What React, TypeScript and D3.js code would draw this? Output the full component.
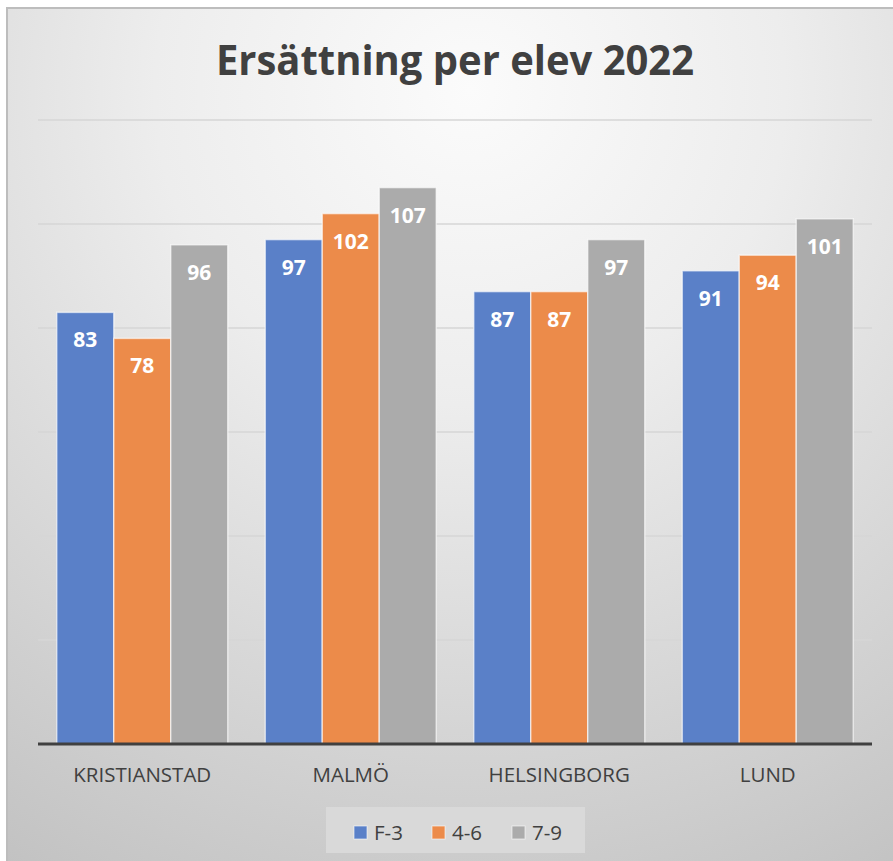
import React from "react";
import * as d3 from "d3";

const categories = ["KRISTIANSTAD", "MALMÖ", "HELSINGBORG", "LUND"];
const seriesNames = ["F-3", "4-6", "7-9"];
const seriesF3 = [83, 97, 87, 91];
const series46 = [78, 102, 87, 94];
const series79 = [96, 107, 97, 101];
const yTicks = [0, 20, 40, 60, 80, 100, 120];
const title = "Ersättning per elev 2022";

const colors = ["#5a80c8", "#ec8b4a", "#ababab"];
const W = 893;
const H = 861;
const FONT = "'Open Sans', 'DejaVu Sans', sans-serif";

export default function App() {
  const series = [seriesF3, series46, series79];
  const x0 = d3.scaleBand<string>().domain(categories).range([38, 872]).paddingInner(0.18).paddingOuter(0.09);
  const x1 = d3.scaleBand<string>().domain(seriesNames).range([0, x0.bandwidth()]).padding(0);
  const y = d3.scaleLinear().domain([0, 120]).range([744, 120]);

  const legendX = [354, 432, 512];

  return (
    <svg width={W} height={H} style={{ position: "absolute", left: 0, top: 0 }} fontFamily={FONT}>
      <defs>
        <radialGradient id="bg" gradientUnits="userSpaceOnUse" cx={470} cy={90} r={900} fx={470} fy={90}>
          <stop offset="0" stopColor="#fbfbfb" />
          <stop offset="0.35" stopColor="#ededed" />
          <stop offset="1" stopColor="#c2c2c2" />
        </radialGradient>
      </defs>
      <rect x={0} y={0} width={W} height={H} fill="#ffffff" />
      <rect x={7} y={8} width={W + 20} height={H + 20} fill="url(#bg)" stroke="#bdbdbd" strokeWidth={2} />
      <text x={455} y={75} textAnchor="middle" fontSize={42} fontWeight={700} fill="#404040" textLength={478} lengthAdjust="spacingAndGlyphs">
        {title}
      </text>
      {yTicks.filter((t) => t > 0).map((t) => (
        <line key={t} x1={38} x2={872} y1={y(t)} y2={y(t)} stroke="#d6d6d6" strokeWidth={1.5} />
      ))}
      {categories.map((c, ci) => (
        <g key={c} transform={`translate(${x0(c)},0)`}>
          {seriesNames.map((s, si) => {
            const v = series[si][ci];
            const bx = x1(s)!;
            const bw = x1.bandwidth();
            return (
              <g key={s}>
                <rect x={bx} y={y(v)} width={bw} height={y(0) - y(v)} fill={colors[si]} stroke="#ffffff" strokeOpacity={0.6} strokeWidth={1.5} />
                <text x={bx + bw / 2} y={y(v) + 35} textAnchor="middle" fontSize={21} fontWeight={700} fill="#ffffff">
                  {v}
                </text>
              </g>
            );
          })}
        </g>
      ))}
      <line x1={38} x2={872} y1={y(0)} y2={y(0)} stroke="#404040" strokeWidth={3} />
      {categories.map((c) => (
        <text key={c} x={x0(c)! + x0.bandwidth() / 2} y={782} textAnchor="middle" fontSize={20.5} fill="#404040">
          {c}
        </text>
      ))}
      <rect x={326} y={807} width={259} height={46} fill="#d9d9d9" />
      {seriesNames.map((s, si) => (
        <g key={s}>
          <rect x={legendX[si]} y={826} width={13} height={13} fill={colors[si]} stroke="#ffffff" strokeOpacity={0.6} strokeWidth={1} />
          <text x={legendX[si] + 20} y={840} fontSize={20.5} fill="#404040">
            {s}
          </text>
        </g>
      ))}
    </svg>
  );
}
